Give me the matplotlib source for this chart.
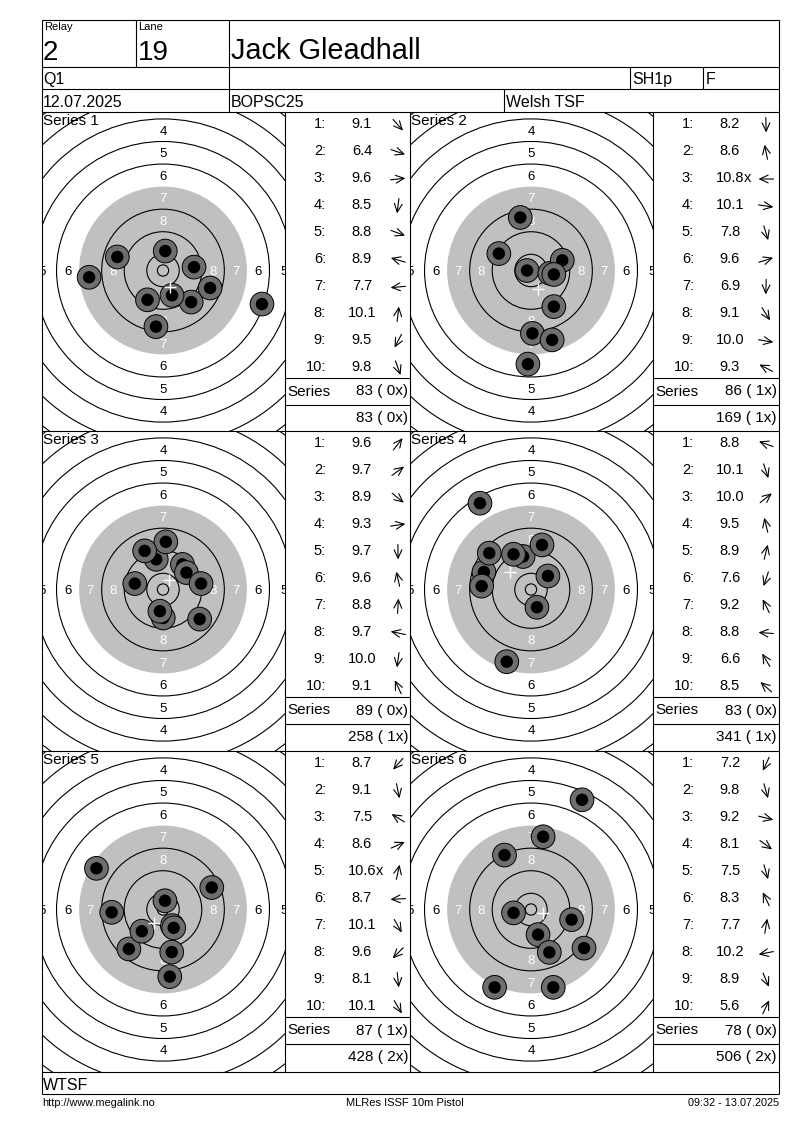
import numpy as np
import matplotlib
matplotlib.use('Agg')
import matplotlib.pyplot as plt
from matplotlib.patches import Circle

plt.rcParams['font.family'] = ['Liberation Sans', 'DejaVu Sans']

# ---------------- data ----------------
relay = "2"
lane = "19"
shooter = "Jack Gleadhall"
stage = "Q1"
shooter_class = "SH1p"
gender = "F"
date = "12.07.2025"
competition = "BOPSC25"
club = "Welsh TSF"
federation = "WTSF"
footer_left = "http://www.megalink.no"
footer_mid = "MLRes ISSF 10m Pistol"
footer_right = "09:32 - 13.07.2025"

series_names = ["Series 1", "Series 2", "Series 3", "Series 4", "Series 5", "Series 6"]

s1_scores = [9.1, 6.4, 9.6, 8.5, 8.8, 8.9, 7.7, 10.1, 9.5, 9.8]
s1_x = [10.0, 35.1, 11.0, -2.5, 16.7, -16.2, -26.2, 0.8, -5.5, 3.2]
s1_y = [-11.2, -11.9, 1.2, -19.9, -6.2, 4.8, -2.4, 6.9, -10.4, -8.8]

s2_scores = [8.2, 8.6, 10.8, 10.1, 7.8, 9.6, 6.9, 9.1, 10.0, 9.3]
s2_x = [0.5, -3.8, -1.4, 6.7, 7.5, 11.1, -1.1, 8.1, 8.1, -11.4]
s2_y = [-22.3, 18.8, 0.0, -1.0, -24.6, 3.6, -33.2, -12.8, -1.4, 6.0]

s3_scores = [9.6, 9.7, 8.9, 9.3, 9.7, 9.6, 8.8, 9.7, 10.0, 9.1]
s3_x = [6.9, 8.3, 13.0, 13.5, 0.1, -2.4, 1.0, -10.0, -1.1, -6.5]
s3_y = [8.9, 6.0, -10.5, 2.1, -10.1, 10.7, 16.9, 2.1, -7.7, 13.7]

s4_scores = [8.8, 10.1, 10.0, 9.5, 8.9, 7.6, 9.2, 8.8, 6.6, 8.5]
s4_x = [-16.7, 2.1, 6.0, -2.8, 3.9, -8.6, -6.2, -17.5, -18.1, -14.8]
s4_y = [6.2, -6.3, 4.8, 11.7, 15.8, -25.6, 12.5, 1.2, 30.6, 12.9]

s5_scores = [8.7, 9.1, 7.5, 8.6, 10.6, 8.7, 10.1, 9.6, 8.1, 10.1]
s5_x = [-12.1, 3.1, -23.6, 17.3, 0.7, -18.2, 3.3, -7.5, 2.4, 3.8]
s5_y = [-14.0, -15.1, 14.6, 7.8, 3.1, -1.0, -5.7, -7.7, -23.8, -6.5]

s6_scores = [7.2, 9.8, 9.2, 8.1, 7.5, 8.3, 7.7, 10.2, 8.9, 5.6]
s6_x = [-12.9, 2.5, 14.4, 18.8, 7.9, -9.4, 4.3, -6.2, 6.5, 18.1]
s6_y = [-27.6, -8.9, -3.6, -13.7, -27.6, 19.3, 25.8, -1.2, -15.2, 38.9]

# inner tens (shot numbers marked with x)
inner_tens = [[], [3], [], [], [5], []]

series_totals = [83, 86, 89, 83, 87, 78]
series_x = [0, 1, 0, 0, 1, 0]
running_totals = [83, 169, 258, 341, 428, 506]
running_x = [0, 1, 1, 1, 2, 2]

all_scores = [s1_scores, s2_scores, s3_scores, s4_scores, s5_scores, s6_scores]
all_x = [s1_x, s2_x, s3_x, s4_x, s5_x, s6_x]
all_y = [s1_y, s2_y, s3_y, s4_y, s5_y, s6_y]

# ---------------- layout (pixels) ----------------
W, H = 800, 1130
PX = 2.82  # pixels per mm on target
LW = 0.8

col_left = [42, 410]
target_right = [285, 653]
table_right = [410, 779]
row_top = [112, 431, 751]
row_bottom = [431, 751, 1072]

fig = plt.figure(figsize=(W / 100, H / 100), dpi=100)

# target axes
for k in range(6):
    r, c = divmod(k, 2)
    L, R, T, B = col_left[c], target_right[c], row_top[r], row_bottom[r]
    cx, cy = L + 121, T + 158.5
    ax = fig.add_axes([L / W, 1 - B / H, (R - L) / W, (B - T) / H], zorder=1)
    ax.set_xlim((L - cx) / PX, (R - cx) / PX)
    ax.set_ylim((cy - B) / PX, (cy - T) / PX)
    ax.axis('off')
    ax.add_patch(Circle((0, 0), 29.75, fc='#c0c0c0', ec='none', zorder=1))
    for n in range(1, 11):
        if n == 7:
            continue
        ax.add_patch(Circle((0, 0), 5.75 + (10 - n) * 8, fill=False, ec='black',
                            lw=LW, zorder=2))
    ax.add_patch(Circle((0, 0), 2.0, fill=False, ec='black', lw=LW, zorder=2))
    for n in range(4, 9):
        rm = 1.75 + (10 - n) * 8
        colr = 'white' if n >= 7 else 'black'
        dirs = [(0, 1), (0, -1)] + ([(-1, 0), (1, 0)] if n >= 5 else [])
        for ux, uy in dirs:
            rr = rm + (1.2 if (n == 5 and ux != 0) else 0)
            ax.text(ux * rr, uy * rr, str(n), ha='center', va='center_baseline',
                    fontsize=9.5, color=colr, clip_on=True, zorder=3)
    xs, ys = all_x[k], all_y[k]
    for i, (x, y) in enumerate(zip(xs, ys)):
        ax.add_patch(Circle((x, y), 4.2, fc='#6e6e6e', ec='black', lw=0.7,
                            zorder=10 + 2 * i))
        ax.add_patch(Circle((x, y), 2.2, fc='black', ec='none', zorder=11 + 2 * i))
    ax.plot([np.mean(xs)], [np.mean(ys)], marker='+', ms=8, mew=1.0,
            color='white', zorder=60)

# overlay axes for frame and texts
ov = fig.add_axes([0, 0, 1, 1], zorder=5)
ov.set_xlim(0, W)
ov.set_ylim(H, 0)
ov.axis('off')
ov.patch.set_alpha(0)


def hline(y, x0, x1):
    ov.plot([x0, x1], [y, y], color='black', lw=LW, solid_capstyle='butt')


def vline(x, y0, y1):
    ov.plot([x, x], [y0, y1], color='black', lw=LW, solid_capstyle='butt')


# outer frame
hline(20, 42, 779)
hline(1094, 42, 779)
vline(42, 20, 1094)
vline(779, 20, 1094)
# header
hline(67, 42, 779)
hline(89, 42, 779)
hline(112, 42, 779)
vline(136, 20, 67)
vline(229, 20, 112)
vline(630, 67, 89)
vline(703, 67, 89)
vline(504, 89, 112)
# grid
for x in [285, 410, 653]:
    vline(x, 112, 1072)
hline(431, 42, 779)
hline(751, 42, 779)
hline(1072, 42, 779)

fs_head = 11.5
ov.text(44, 21.5, "Relay", fontsize=8, ha='left', va='top')
ov.text(138, 21.5, "Lane", fontsize=8, ha='left', va='top')
ov.text(43, 60, relay, fontsize=20, ha='left', va='baseline')
ov.text(138, 60, lane, fontsize=20, ha='left', va='baseline')
ov.text(231, 59, shooter, fontsize=20.8, ha='left', va='baseline')
ov.text(43, 84, stage, fontsize=fs_head, ha='left', va='baseline')
ov.text(632, 84, shooter_class, fontsize=fs_head, ha='left', va='baseline')
ov.text(706, 84, gender, fontsize=fs_head, ha='left', va='baseline')
ov.text(43, 107, date, fontsize=fs_head, ha='left', va='baseline')
ov.text(231, 107, competition, fontsize=fs_head, ha='left', va='baseline')
ov.text(506, 107, club, fontsize=fs_head, ha='left', va='baseline')
ov.text(43, 1090, federation, fontsize=fs_head, ha='left', va='baseline')
ov.text(42, 1106, footer_left, fontsize=7.8, ha='left', va='baseline')
ov.text(405, 1106, footer_mid, fontsize=8, ha='center', va='baseline')
ov.text(779, 1106, footer_right, fontsize=7.8, ha='right', va='baseline')

fs = 10.5
ALEN = 15.0
for k in range(6):
    r, c = divmod(k, 2)
    L, T = col_left[c], row_top[r]
    TL, TR = target_right[c], table_right[c]
    ov.text(L + 1, T + 9, series_names[k], fontsize=11, ha='left', va='center')
    xs, ys, sc = all_x[k], all_y[k], all_scores[k]
    for i in range(10):
        yy = T + 12 + 27 * i
        ov.text(TL + 41, yy, f"{i + 1}:", fontsize=fs, ha='right', va='center')
        t = ov.text(TL + 77, yy, f"{sc[i]:.1f}", fontsize=fs, ha='center', va='center')
        if (i + 1) in inner_tens[k]:
            ov.annotate('x', xy=(1, 0), xycoords=t, fontsize=fs, ha='left', va='bottom')
        ang = np.arctan2(ys[i], xs[i])
        vx, vy = np.cos(ang), -np.sin(ang)
        ax0, ay0 = TL + 113, yy + 1
        ov.annotate('', xy=(ax0 + vx * ALEN / 2, ay0 + vy * ALEN / 2),
                    xytext=(ax0 - vx * ALEN / 2, ay0 - vy * ALEN / 2),
                    arrowprops=dict(arrowstyle='->,head_length=0.6,head_width=0.28',
                                    lw=0.8, color='black', shrinkA=0, shrinkB=0))
    hline(T + 266, TL, TR)
    hline(T + 292.5, TL, TR)
    ov.text(TL + 2, T + 279.5, "Series", fontsize=11, ha='left', va='center')
    ov.text(TR - 2, T + 279.5, f"{series_totals[k]} ( {series_x[k]}x)", fontsize=11,
            ha='right', va='center')
    ov.text(TR - 2, T + 306, f"{running_totals[k]} ( {running_x[k]}x)", fontsize=11,
            ha='right', va='center')

fig.savefig('out.png', dpi=100)
